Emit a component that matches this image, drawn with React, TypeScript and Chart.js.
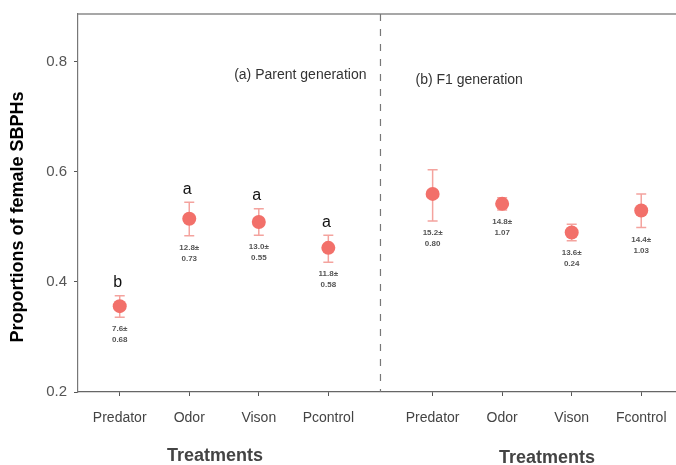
import React, { useEffect, useRef } from "react";
import { Chart, registerables } from "chart.js";

Chart.register(...registerables);

// ---- data ----
const groupTitles = ["(a) Parent generation", "(b) F1 generation"];
const axisTitleX = "Treatments";
const axisTitleY = "Proportions of female SBPHs";

const parentTreatments = ["Predator", "Odor", "Vison", "Pcontrol"];
const parentMean = [0.356, 0.515, 0.509, 0.462];
const parentLow = [0.336, 0.484, 0.485, 0.436];
const parentHigh = [0.375, 0.545, 0.533, 0.485];
const parentLetters = ["b", "a", "a", "a"];
const parentCount = ["7.6±", "12.8±", "13.0±", "11.8±"];
const parentSE = ["0.68", "0.73", "0.55", "0.58"];

const f1Treatments = ["Predator", "Odor", "Vison", "Fcontrol"];
const f1Mean = [0.56, 0.542, 0.49, 0.53];
const f1Low = [0.511, 0.531, 0.475, 0.499];
const f1High = [0.604, 0.553, 0.505, 0.56];
const f1Count = ["15.2±", "14.8±", "13.6±", "14.4±"];
const f1SE = ["0.80", "1.07", "0.24", "1.03"];

const yTicks = [0.2, 0.4, 0.6, 0.8];
const groupGap = 0.5;

const FONT = "'Liberation Sans', Arial, Helvetica, sans-serif";

export default function App() {
  const ref = useRef<HTMLCanvasElement>(null);

  useEffect(() => {
    document.body.style.margin = "0";
    const canvas = ref.current;
    if (!canvas) return;

    const parentX = parentTreatments.map((_, i) => i);
    const f1X = f1Treatments.map((_, i) => parentTreatments.length + groupGap + i);
    const allX = [...parentX, ...f1X];
    const allLabels = [...parentTreatments, ...f1Treatments];
    const dividerX = (parentX[parentX.length - 1] + f1X[0]) / 2;

    const parentData = parentX.map((x, i) => ({
      x,
      y: parentMean[i],
      low: parentLow[i],
      high: parentHigh[i],
      letter: parentLetters[i],
      n: parentCount[i],
      se: parentSE[i],
    }));
    const f1Data = f1X.map((x, i) => ({
      x,
      y: f1Mean[i],
      low: f1Low[i],
      high: f1High[i],
      letter: "",
      n: f1Count[i],
      se: f1SE[i],
    }));

    const decor = {
      id: "decor",
      beforeDatasetsDraw(chart: any) {
        const ctx = chart.ctx;
        const xs = chart.scales.x;
        const ys = chart.scales.y;
        ctx.save();
        ctx.strokeStyle = "#F4A39E";
        ctx.lineWidth = 1.5;
        chart.data.datasets.forEach((ds: any) => {
          ds.data.forEach((d: any) => {
            const px = xs.getPixelForValue(d.x);
            const yl = ys.getPixelForValue(d.low);
            const yh = ys.getPixelForValue(d.high);
            ctx.beginPath();
            ctx.moveTo(px, yl);
            ctx.lineTo(px, yh);
            ctx.moveTo(px - 5, yl);
            ctx.lineTo(px + 5, yl);
            ctx.moveTo(px - 5, yh);
            ctx.lineTo(px + 5, yh);
            ctx.stroke();
          });
        });
        ctx.restore();
      },
      afterDatasetsDraw(chart: any) {
        const ctx = chart.ctx;
        const xs = chart.scales.x;
        const ys = chart.scales.y;
        const area = chart.chartArea;
        ctx.save();
        // point annotations
        chart.data.datasets.forEach((ds: any) => {
          ds.data.forEach((d: any) => {
            const px = xs.getPixelForValue(d.x);
            const yl = ys.getPixelForValue(d.low);
            const yh = ys.getPixelForValue(d.high);
            ctx.textAlign = "center";
            ctx.textBaseline = "middle";
            if (d.letter) {
              ctx.fillStyle = "#111";
              ctx.font = `16px ${FONT}`;
              ctx.fillText(d.letter, px - 2, yh - 13);
            }
            ctx.fillStyle = "#555";
            ctx.font = `bold 8px ${FONT}`;
            ctx.fillText(d.n, px, yl + 12);
            ctx.fillText(d.se, px, yl + 23);
          });
        });

        // top border
        ctx.strokeStyle = "#8a8a8a";
        ctx.lineWidth = 1.5;
        ctx.beginPath();
        ctx.moveTo(area.left, area.top);
        ctx.lineTo(area.right, area.top);
        ctx.stroke();

        // divider
        const dx = xs.getPixelForValue(dividerX);
        ctx.strokeStyle = "#777";
        ctx.lineWidth = 1.2;
        ctx.setLineDash([7, 8]);
        ctx.beginPath();
        ctx.moveTo(dx, area.top);
        ctx.lineTo(dx, area.bottom);
        ctx.stroke();
        ctx.setLineDash([]);

        // group titles
        ctx.fillStyle = "#333";
        ctx.font = `14px ${FONT}`;
        ctx.textBaseline = "middle";
        ctx.textAlign = "right";
        ctx.fillText(groupTitles[0], dx - 14, area.top + 61);
        ctx.textAlign = "left";
        ctx.fillText(groupTitles[1], dx + 35, area.top + 66);

        // x-axis titles (one per group)
        const cParent = xs.getPixelForValue((parentX[0] + parentX[parentX.length - 1]) / 2);
        const cF1 = xs.getPixelForValue((f1X[0] + f1X[f1X.length - 1]) / 2);
        ctx.fillStyle = "#444";
        ctx.font = `bold 18px ${FONT}`;
        ctx.textAlign = "center";
        ctx.fillText(axisTitleX, cParent - 9, 456);
        ctx.fillText(axisTitleX, cF1 + 10, 458);

        // y-axis title
        ctx.save();
        ctx.translate(18, (area.top + area.bottom) / 2 + 14);
        ctx.rotate(-Math.PI / 2);
        ctx.fillStyle = "#000";
        ctx.font = `bold 18px ${FONT}`;
        ctx.textAlign = "center";
        ctx.fillText(axisTitleY, 0, 0);
        ctx.restore();

        ctx.restore();
      },
    };

    const chart = new Chart(canvas, {
      type: "scatter",
      data: {
        datasets: [
          {
            label: groupTitles[0],
            data: parentData as any,
            pointRadius: 7,
            pointHoverRadius: 7,
            backgroundColor: "#F2706A",
            borderWidth: 0,
          },
          {
            label: groupTitles[1],
            data: f1Data as any,
            pointRadius: 7,
            pointHoverRadius: 7,
            backgroundColor: "#F2706A",
            borderWidth: 0,
          },
        ],
      },
      options: {
        animation: false,
        responsive: false,
        maintainAspectRatio: false,
        layout: { autoPadding: false, padding: { top: 14, right: 0, left: 0, bottom: 0 } },
        plugins: {
          legend: { display: false },
          tooltip: { enabled: false },
          title: { display: false },
        },
        scales: {
          x: {
            type: "linear",
            min: -0.6,
            max: 8.0,
            afterBuildTicks(scale: any) {
              scale.ticks = allX.map((v) => ({ value: v }));
            },
            afterFit(scale: any) {
              scale.height = 73;
              scale.paddingLeft = 0;
              scale.paddingRight = 0;
            },
            grid: {
              drawOnChartArea: false,
              drawTicks: true,
              tickLength: 4,
              color: "#555",
            },
            border: { display: true, color: "#666", width: 1.2 },
            ticks: {
              autoSkip: false,
              maxRotation: 0,
              padding: 14,
              color: "#444",
              font: { family: FONT, size: 14 },
              callback: (_v: any, i: number) => allLabels[i],
            },
          },
          y: {
            type: "linear",
            min: 0.2,
            max: 0.887,
            afterBuildTicks(scale: any) {
              scale.ticks = yTicks.map((v) => ({ value: v }));
            },
            afterFit(scale: any) {
              scale.width = 78;
              scale.paddingTop = 0;
              scale.paddingBottom = 0;
            },
            grid: {
              drawOnChartArea: false,
              drawTicks: true,
              tickLength: 4,
              color: "#555",
            },
            border: { display: true, color: "#777", width: 1.2 },
            ticks: {
              padding: 7,
              color: "#555",
              font: { family: FONT, size: 15 },
              callback: (v: any) => Number(v).toFixed(1),
            },
          },
        },
      },
      plugins: [decor],
    });

    return () => chart.destroy();
  }, []);

  return (
    <div style={{ position: "absolute", left: 0, top: 0, width: 676, height: 465, background: "#fff" }}>
      <canvas ref={ref} width={676} height={465} style={{ width: 676, height: 465 }} />
    </div>
  );
}
